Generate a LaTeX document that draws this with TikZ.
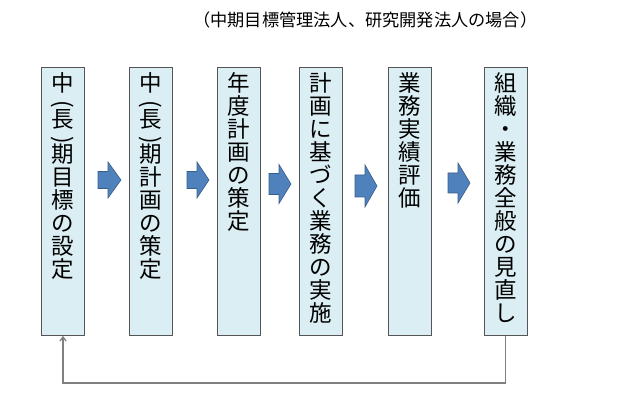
\documentclass[tikz,border=0pt]{standalone}
\usepackage{fontspec}
\newfontfamily\jp{Noto Sans CJK JP}
\usetikzlibrary{arrows.meta}
\definecolor{boxfill}{HTML}{DAEEF3}
\definecolor{boxline}{HTML}{555555}
\definecolor{arrfill}{HTML}{4F81BD}
\definecolor{arrline}{HTML}{385D8A}
\definecolor{fbline}{HTML}{808080}
\tikzset{
  stepbox/.style={draw=boxline, line width=0.9pt, fill=boxfill, minimum width=43pt, minimum height=268pt, anchor=north west, inner sep=0pt},
  vtext/.style={anchor=north, inner sep=0pt, align=center, font=\jp\fontsize{22.5}{23}\selectfont},
  vparen/.style={inner sep=0pt, rotate=-90, font=\jp\fontsize{22.5}{23}\selectfont},
  blockarrow/.style={draw=arrline, line width=0.6pt, fill=arrfill},
  fb/.style={draw=fbline, line width=1.3pt}
}
\begin{document}
\begin{tikzpicture}[x=1pt,y=-1pt]
\useasboundingbox (0,0) rectangle (620,411);
\node[anchor=west, inner sep=0pt, font=\jp\fontsize{17.2}{19}\selectfont] (title) at (193,20) {（中期目標管理法人、研究開発法人の場合）};

\node[stepbox] (b1) at (41,67) {};
\node[stepbox] (b2) at (129,67) {};
\node[stepbox] (b3) at (217,67) {};
\node[stepbox] (b4) at (299,67) {};
\node[stepbox] (b5) at (388,67) {};
\node[stepbox] (b6) at (484,67) {};

\node[vtext] (t1) at ([yshift=-5pt]b1.north) {中\\[13pt]長\\[12pt]期\\目\\標\\の\\設\\定};
\node[vtext] (t2) at ([yshift=-5pt]b2.north) {中\\[13pt]長\\[12pt]期\\計\\画\\の\\策\\定};
\node[vparen] (p1a) at (b1.center |- 0,104) {(};
\node[vparen] (p1b) at (b1.center |- 0,140) {)};
\node[vparen] (p2a) at (b2.center |- 0,104) {(};
\node[vparen] (p2b) at (b2.center |- 0,140) {)};
\node[vtext] (t3) at ([yshift=-5pt]b3.north) {年\\度\\計\\画\\の\\策\\定};
\node[vtext] (t4) at ([yshift=-5pt]b4.north) {計\\画\\に\\基\\づ\\く\\業\\務\\の\\実\\施};
\node[vtext] (t5) at ([yshift=-5pt]b5.north) {業\\務\\実\\績\\評\\価};
\node[vtext] (t6) at ([yshift=-5pt]b6.north) {組\\織\\・\\業\\務\\全\\般\\の\\見\\直\\し};

% block arrows
\draw[blockarrow, shift={(98,180)}] (0,-8.5) -- (10,-8.5) -- (10,-18) -- (23,0) -- (10,18) -- (10,8.5) -- (0,8.5) -- cycle;
\draw[blockarrow, shift={(187,180)}] (0,-8.5) -- (10,-8.5) -- (10,-18) -- (22,0) -- (10,18) -- (10,8.5) -- (0,8.5) -- cycle;
\draw[blockarrow, shift={(269,184)}] (0,-10.5) -- (10,-10.5) -- (10,-19.5) -- (22,0) -- (10,19.5) -- (10,10.5) -- (0,10.5) -- cycle;
\draw[blockarrow, shift={(355,186)}] (0,-11) -- (10,-11) -- (10,-21) -- (22,0) -- (10,21) -- (10,11) -- (0,11) -- cycle;
\draw[blockarrow, shift={(448,183)}] (0,-10) -- (10,-10) -- (10,-20) -- (22,0) -- (10,20) -- (10,10) -- (0,10) -- cycle;

% feedback
\coordinate (c1) at (505,383);
\coordinate (c2) at (63,383);
\draw[fb, -{Straight Barb[length=4pt,width=6pt]}] ([xshift=-0.5pt]b6.south) -- ([xshift=-0.5pt]b6.south |- c1) -- (c2) -- (c2 |- b1.south);
\end{tikzpicture}
\end{document}
